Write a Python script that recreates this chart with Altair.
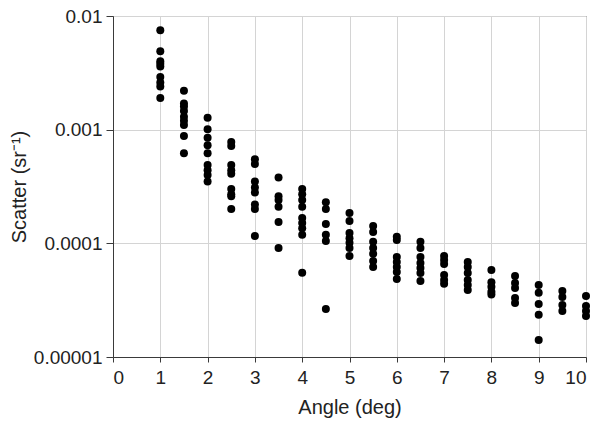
import altair as alt
import pandas as pd

# Scatter (sr^-1) measured at each scattering angle (deg)
angles = [1.0, 1.5, 2.0, 2.5, 3.0, 3.5, 4.0, 4.5, 5.0, 5.5,
          6.0, 6.5, 7.0, 7.5, 8.0, 8.5, 9.0, 9.5, 10.0]

s_1_0 = [0.0075, 0.0049, 0.0040, 0.0038, 0.0036, 0.0029, 0.0026, 0.0024, 0.0019]
s_1_5 = [0.0022, 0.0017, 0.0016, 0.00146, 0.0013, 0.0012, 0.0011, 0.00088, 0.00062]
s_2_0 = [0.00127, 0.00101, 0.00085, 0.00073, 0.00062, 0.00049, 0.00044, 0.00040, 0.00035]
s_2_5 = [0.00078, 0.00072, 0.00049, 0.00044, 0.00041, 0.00030, 0.00027, 0.00026, 0.00020]
s_3_0 = [0.00055, 0.00050, 0.00035, 0.00031, 0.00028, 0.00022, 0.00020, 0.000116]
s_3_5 = [0.00038, 0.00026, 0.00024, 0.00021, 0.000154, 0.000091]
s_4_0 = [0.00030, 0.00027, 0.00024, 0.00021, 0.000167, 0.000151, 0.000136, 0.000119, 0.000055]
s_4_5 = [0.00023, 0.00020, 0.000148, 0.000119, 0.000105, 0.0000265]
s_5_0 = [0.000185, 0.000157, 0.000123, 0.000111, 0.000101, 0.000091, 0.0000775]
s_5_5 = [0.000142, 0.000126, 0.000103, 0.000091, 0.000081, 0.000070, 0.000062]
s_6_0 = [0.000114, 0.000107, 0.000076, 0.0000686, 0.000062, 0.000056, 0.0000486]
s_6_5 = [0.000103, 0.000091, 0.000076, 0.0000672, 0.0000608, 0.0000549, 0.0000467]
s_7_0 = [0.0000775, 0.0000714, 0.0000659, 0.0000527, 0.0000477, 0.000044]
s_7_5 = [0.0000686, 0.000062, 0.0000549, 0.0000477, 0.0000431, 0.0000389]
s_8_0 = [0.0000583, 0.0000455, 0.0000415, 0.0000375, 0.0000355]
s_8_5 = [0.0000517, 0.0000448, 0.0000405, 0.0000331, 0.0000299]
s_9_0 = [0.0000431, 0.0000367, 0.0000293, 0.0000235, 0.0000141]
s_9_5 = [0.0000381, 0.0000338, 0.0000287, 0.0000254]
s_10_0 = [0.0000344, 0.0000281, 0.0000254, 0.000023]

groups = [s_1_0, s_1_5, s_2_0, s_2_5, s_3_0, s_3_5, s_4_0, s_4_5, s_5_0, s_5_5,
          s_6_0, s_6_5, s_7_0, s_7_5, s_8_0, s_8_5, s_9_0, s_9_5, s_10_0]

x_ticks = list(range(0, 11))
y_ticks = [0.01, 0.001, 0.0001, 0.00001]

rows = [{"angle": a, "scatter": v} for a, vals in zip(angles, groups) for v in vals]
df = pd.DataFrame(rows)

FONT = "Liberation Sans"
AXIS_COLOR = "#3a3a3a"
GRID_COLOR = "#d4d4d4"

chart = (
    alt.Chart(df)
    .mark_circle(size=64, color="black", opacity=1)
    .encode(
        x=alt.X(
            "angle:Q",
            scale=alt.Scale(domain=[0, 10], nice=False, zero=False),
            axis=alt.Axis(
                title="Angle (deg)",
                values=x_ticks,
                format="d",
                tickSize=5,
                labelPadding=6,
                titlePadding=10,
            ),
        ),
        y=alt.Y(
            "scatter:Q",
            scale=alt.Scale(type="log", domain=[0.00001, 0.01], nice=False),
            axis=alt.Axis(
                title="Scatter (sr⁻¹)",
                values=y_ticks,
                format=".5~f",
                tickSize=7,
                labelPadding=4,
                titlePadding=4,
            ),
        ),
    )
    .properties(
        width=473,
        height=341,
        padding={"left": 113, "top": 16, "right": 13, "bottom": 67},
        autosize=alt.AutoSizeParams(type="none"),
        background="white",
    )
    .configure_view(stroke=AXIS_COLOR, strokeWidth=1)
    .configure_axis(
        grid=True,
        gridColor=GRID_COLOR,
        gridWidth=1,
        domainColor=AXIS_COLOR,
        tickColor=AXIS_COLOR,
        labelFont=FONT,
        titleFont=FONT,
        labelFontSize=19,
        titleFontSize=20,
        titleFontWeight="normal",
        labelColor="#222222",
        titleColor="#222222",
    )
)

chart.save("out.html", embed_options={"renderer": "svg", "actions": False})
